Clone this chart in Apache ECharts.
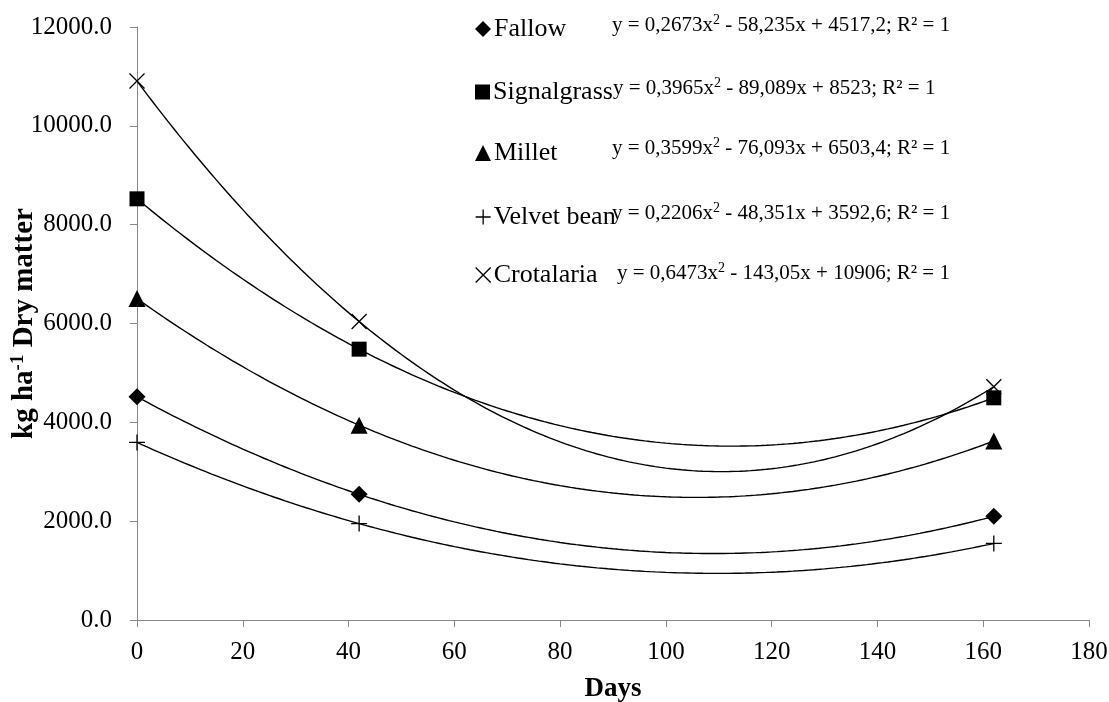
<!DOCTYPE html>
<html><head><meta charset="utf-8">
<script src="https://cdn.jsdelivr.net/npm/echarts@6/dist/echarts.min.js"></script>
<style>html,body{margin:0;padding:0;background:#fff}#c{width:1109px;height:702px}</style>
</head><body><div id="c"></div>
<script>
const days = [0, 42, 162];
const names = ['Fallow', 'Signalgrass', 'Millet', 'Velvet bean', 'Crotalaria'];
const fallow = [4517.2, 2542.8, 2098.1];
const signalgrass = [8523, 5480.7, 4496.3];
const millet = [6503.4, 3942.4, 3621.5];
const velvetBean = [3592.6, 1951.0, 1549.1];
const crotalaria = [10906, 6039.7, 4719.6];
// trendline coefficients (y = a x^2 + b x + c)
const coefA = [0.2673, 0.3965, 0.3599, 0.2206, 0.6473];
const coefB = [-58.235, -89.089, -76.093, -48.351, -143.05];
const coefC = [4517.2, 8523, 6503.4, 3592.6, 10906];
const equations = [
  'y = 0,2673x{s|2} - 58,235x + 4517,2; R² = 1',
  'y = 0,3965x{s|2} - 89,089x + 8523; R² = 1',
  'y = 0,3599x{s|2} - 76,093x + 6503,4; R² = 1',
  'y = 0,2206x{s|2} - 48,351x + 3592,6; R² = 1',
  'y = 0,6473x{s|2} - 143,05x + 10906; R² = 1'
];
const xTicks = [0, 20, 40, 60, 80, 100, 120, 140, 160, 180];

const values = [fallow, signalgrass, millet, velvetBean, crotalaria];
const plusPath = 'path://M0,5 L10,5 M5,0 L5,10';
const xPath = 'path://M0,0 L10,10 M10,0 L0,10';
const symbols = ['diamond', 'rect', 'triangle', plusPath, xPath];
const sizes = [17, 15, 17, 16, 15];
const font = "'Liberation Serif', 'Times New Roman', serif";

const filled = {color: '#000', opacity: 1};
const open = {color: 'rgba(0,0,0,0)', borderColor: '#000', borderWidth: 1.3, opacity: 1};

const chart = echarts.init(document.getElementById('c'));
const series = [];
names.forEach((n, i) => {
  const curve = [];
  for (let x = 0; x <= days[days.length - 1]; x += 1) {
    curve.push([x, coefA[i] * x * x + coefB[i] * x + coefC[i]]);
  }
  series.push({
    name: n + ' trend', type: 'line', data: curve, showSymbol: false, silent: true,
    lineStyle: {color: '#000', width: 1.4}, z: 2
  });
});
names.forEach((n, i) => {
  series.push({
    name: n, type: 'scatter', data: days.map((d, k) => [d, values[i][k]]),
    symbol: symbols[i], symbolSize: sizes[i],
    itemStyle: i >= 3 ? open : filled,
    z: 3
  });
});

const legendCenter = [25, 88, 149, 213, 271];
const iconSize = [16, 15, 16, 15, 15];
const legendText = {
  fontFamily: font, fontSize: 26, color: '#000', padding: [0, 0, 0, -2],
  rich: {t: {fontFamily: font, fontSize: 26, color: '#000'}}
};
const legends = names.map((n, i) => ({
  show: true, left: 470, top: legendCenter[i] - 14, orient: 'vertical',
  itemWidth: iconSize[i], itemHeight: iconSize[i], itemGap: 0,
  formatter: '{t|{name}}',
  data: [{name: n, icon: symbols[i], itemStyle: i >= 3 ? open : filled}],
  textStyle: legendText
}));

const eqLeft = [612, 613, 612, 612, 617];
const eqCenter = [25, 88, 148, 213, 273];
const graphics = equations.map((e, i) => ({
  type: 'text', left: eqLeft[i], top: eqCenter[i] - 12,
  style: {
    text: e, fontFamily: font, fontSize: 21, fill: '#000',
    rich: {s: {fontSize: 14, fontFamily: font, fill: '#000', padding: [0, 0, 10, 0]}}
  }
}));

chart.setOption({
  animation: false,
  backgroundColor: '#fff',
  textStyle: {fontFamily: font},
  grid: {left: 137, right: 20, top: 27, bottom: 82, containLabel: false, outerBoundsMode: 'none'},
  legend: legends,
  graphic: graphics,
  xAxis: {
    type: 'value', min: 0, max: 180, interval: 20,
    axisLine: {lineStyle: {color: '#888'}},
    axisTick: {show: true, length: 7, lineStyle: {color: '#888'}},
    splitLine: {show: false},
    axisLabel: {fontFamily: font, fontSize: 25, color: '#000', margin: 20},
    name: 'Days', nameLocation: 'middle', nameGap: 56, nameMoveOverlap: false,
    nameTextStyle: {fontFamily: font, fontSize: 27, fontWeight: 'bold', color: '#000'}
  },
  yAxis: {
    type: 'value', min: 0, max: 12000, interval: 2000,
    axisLine: {show: true, lineStyle: {color: '#888'}},
    axisTick: {show: true, length: 7, lineStyle: {color: '#888'}},
    splitLine: {show: false},
    axisLabel: {fontFamily: font, fontSize: 25, color: '#000', margin: 25, formatter: v => v.toFixed(1)},
    name: '{a|kg ha}{s|-1}{a| Dry matter}', nameLocation: 'middle', nameGap: 97, nameRotate: 90,
    nameMoveOverlap: false,
    nameTextStyle: {
      color: '#000',
      rich: {
        a: {fontFamily: font, fontSize: 29, fontWeight: 'bold', color: '#000'},
        s: {fontFamily: font, fontSize: 19, fontWeight: 'bold', color: '#000', padding: [0, 0, 12, 0]}
      }
    }
  },
  series: series
});
</script></body></html>
